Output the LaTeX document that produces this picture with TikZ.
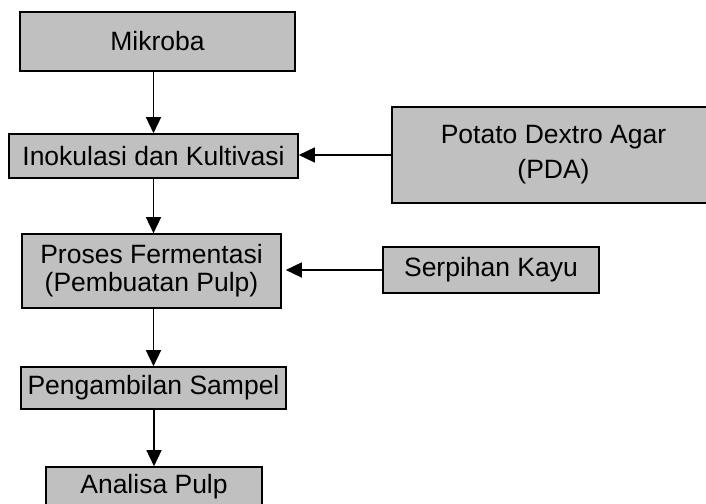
\documentclass[tikz,border=0pt]{standalone}
\usepackage{fontspec}
\setmainfont{Liberation Sans}
\usetikzlibrary{arrows.meta}
\definecolor{boxgray}{HTML}{C0C0C0}
\begin{document}
\begin{tikzpicture}[x = 1pt, y = 1pt,
            every node/.style = {draw, line width = 1.6pt, fill = boxgray, inner sep = 0pt,
                align = center, font = \fontsize{26.5}{28}\selectfont},
            flow/.style = {line width = 1.5pt, -{Triangle[length = 16pt, width = 15pt]}}]
            \useasboundingbox (0,0) rectangle (706,503);
            \node[minimum width = 275pt, minimum height = 59pt] (mikroba) at (157.5,461.5) {Mikroba};
            \node[minimum width = 289pt, minimum height = 44pt] (inokulasi) at (153.5,347) {Inokulasi dan Kultivasi};
            \node[minimum width = 323pt, minimum height = 96pt] (pda) at (553.5,348) {Potato Dextro Agar\\[7pt](PDA)};
            \node[minimum width = 259pt, minimum height = 74pt] (fermentasi) at (151.5,232) {Proses Fermentasi\\(Pembuatan Pulp)};
            \node[minimum width = 216pt, minimum height = 46pt] (serpihan) at (491,233) {Serpihan Kayu};
            \node[minimum width = 265pt, minimum height = 42pt] (sampel) at (153.5,115) {Pengambilan Sampel};
            \node[minimum width = 216pt, minimum height = 40pt] (analisa) at (154,16) {Analisa Pulp};
            \draw[flow] (mikroba.south -| inokulasi) -- (inokulasi);
            \draw[flow] (inokulasi.south) -- (fermentasi.north -| inokulasi);
            \draw[flow] (fermentasi.south -| inokulasi) -- (sampel);
            \draw[flow] (sampel.south -| analisa) -- (analisa);
            \draw[flow] (pda.west) -- (pda.west -| inokulasi.east);
            \draw[flow, shorten > = 4pt] (serpihan.west) -- (serpihan.west -| fermentasi.east);
        \end{tikzpicture}
\end{document}
